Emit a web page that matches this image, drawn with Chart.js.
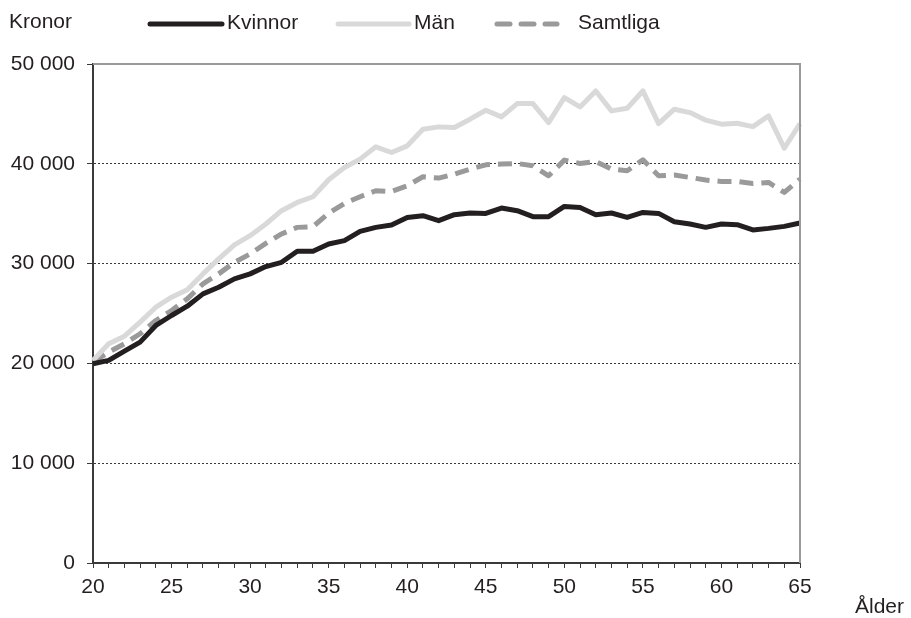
<!DOCTYPE html>
<html>
<head>
<meta charset="utf-8">
<script src="https://cdn.jsdelivr.net/npm/chart.js@4"></script>
<style>
  body { margin: 0; background: #fff; }
  #wrap { width: 911px; height: 618px; }
</style>
</head>
<body>
<div id="wrap"><canvas id="myChart"></canvas></div>
<script>
var ages = [20, 21, 22, 23, 24, 25, 26, 27, 28, 29, 30, 31, 32, 33, 34, 35, 36, 37, 38, 39, 40, 41, 42, 43, 44, 45,
    46, 47, 48, 49, 50, 51, 52, 53, 54, 55, 56, 57, 58, 59, 60, 61, 62, 63, 64, 65];

var kvinnor = [19970, 20300, 21230, 22130, 23800, 24800, 25730, 26970, 27630, 28470, 28970, 29700, 30130, 31230, 31230, 31970,
    32300, 33230, 33630, 33870, 34630, 34800, 34300, 34900, 35070, 35030, 35570, 35300, 34700, 34700, 35730,
    35630, 34900, 35070, 34630, 35130, 35030, 34200, 33970, 33630, 33970, 33900, 33370, 33530, 33730, 34070];

var man = [20300, 21970, 22730, 24130, 25630, 26630, 27370, 28970, 30470, 31870, 32800, 33970, 35300, 36130, 36700, 38400,
    39630, 40470, 41700, 41130, 41800, 43470, 43700, 43630, 44470, 45370, 44700, 46030, 46030, 44130, 46630,
    45700, 47300, 45300, 45570, 47300, 44030, 45470, 45130, 44370, 43970, 44070, 43730, 44800, 41570, 44030];

var samtliga = [20130, 21130, 21970, 22970, 24300, 25300, 26470, 27970, 28970, 30130, 30970, 32030, 32970, 33630, 33700, 35050,
    36030, 36700, 37300, 37230, 37800, 38700, 38570, 38970, 39470, 39900, 39970, 40030, 39800, 38800, 40370,
    40030, 40230, 39470, 39300, 40400, 38800, 38870, 38630, 38370, 38230, 38230, 38030, 38130, 37130, 38470];

var seriesNames = ['Kvinnor', 'Män', 'Samtliga'];
var yTicks = [0, 10000, 20000, 30000, 40000, 50000];

var textColor = '#231f20';
var fontFamily = '"Liberation Sans", Arial, sans-serif';

// titles, legend and frame are drawn by hand
var extras = {
    id: 'extras',
    afterDraw: function (chart) {
        var c = chart.ctx;
        var area = chart.chartArea;
        c.save();
        c.strokeStyle = '#9a9a9a';
        c.lineWidth = 2;
        c.beginPath();
        c.moveTo(area.left, area.top);
        c.lineTo(area.right, area.top);
        c.lineTo(area.right, area.bottom);
        c.stroke();

        c.fillStyle = textColor;
        c.font = '21px ' + fontFamily;
        c.textBaseline = 'alphabetic';
        c.textAlign = 'left';
        c.fillText('Kronor', 9, 28);
        c.fillText('Ålder', 855, 613);

        var spots = [
            { x1: 150, x2: 222, tx: 227 },
            { x1: 338, x2: 409, tx: 414 },
            { x1: 497, x2: 557, tx: 578 }
        ];
        chart.data.datasets.forEach(function (ds, i) {
            var s = spots[i];
            c.strokeStyle = ds.borderColor;
            c.lineWidth = ds.borderWidth;
            c.lineCap = 'round';
            c.setLineDash(ds.borderDash && ds.borderDash.length ? [13, 11] : []);
            c.beginPath();
            c.moveTo(s.x1, 24);
            c.lineTo(s.x2, 24);
            c.stroke();
            c.setLineDash([]);
            c.fillText(ds.label, s.tx, 29);
        });
        c.restore();
    }
};

var ctx_chart = document.getElementById('myChart');
var myChart = new Chart(ctx_chart, {
    type: 'line',
    data: {
        labels: ages,
        datasets: [
            {
                label: seriesNames[0],
                data: kvinnor,
                borderColor: '#231f20',
                borderWidth: 5,
                pointRadius: 0,
                tension: 0,
                borderJoinStyle: 'round'
            },
            {
                label: seriesNames[1],
                data: man,
                borderColor: '#d9d9d9',
                borderWidth: 5,
                pointRadius: 0,
                tension: 0,
                borderJoinStyle: 'round'
            },
            {
                label: seriesNames[2],
                data: samtliga,
                borderColor: '#9a9a9a',
                borderWidth: 5,
                borderDash: [14, 8],
                pointRadius: 0,
                tension: 0,
                borderJoinStyle: 'round'
            }
        ]
    },
    options: {
        responsive: true,
        maintainAspectRatio: false,
        animation: false,
        layout: { padding: { top: 64, right: 111, left: 0, bottom: 0 } },
        plugins: {
            legend: { display: false },
            tooltip: { enabled: false }
        },
        scales: {
            x: {
                type: 'category',
                offset: false,
                afterFit: function (scale) { scale.height = 55; },
                border: { display: true, color: '#3a3a3a', width: 2 },
                grid: {
                    drawOnChartArea: false,
                    drawTicks: true,
                    tickLength: 5,
                    tickColor: '#3a3a3a',
                    tickWidth: 1
                },
                ticks: {
                    autoSkip: false,
                    maxRotation: 0,
                    padding: 7,
                    color: textColor,
                    font: { family: fontFamily, size: 21 },
                    callback: function (val, i) {
                        return ages[i] % 5 === 0 ? String(ages[i]) : '';
                    }
                }
            },
            y: {
                min: yTicks[0],
                max: yTicks[yTicks.length - 1],
                afterFit: function (scale) { scale.width = 93; },
                afterBuildTicks: function (scale) {
                    scale.ticks = yTicks.map(function (v) { return { value: v }; });
                },
                border: { display: true, color: '#3a3a3a', width: 2, dash: [2, 2] },
                grid: {
                    color: function (c) {
                        var v = c.tick ? c.tick.value : 0;
                        return (v === 0 || v === 50000) ? 'rgba(0,0,0,0)' : '#3a3a3a';
                    },
                    lineWidth: 1,
                    tickLength: 6,
                    tickColor: '#3a3a3a',
                    tickBorderDash: []
                },
                ticks: {
                    padding: 12,
                    color: textColor,
                    font: { family: fontFamily, size: 21 },
                    callback: function (v) {
                        return v === 0 ? '0' : String(v).replace(/(\d)(?=(\d{3})+$)/, '$1 ');
                    }
                }
            }
        }
    },
    plugins: [extras]
});
</script>
</body>
</html>
